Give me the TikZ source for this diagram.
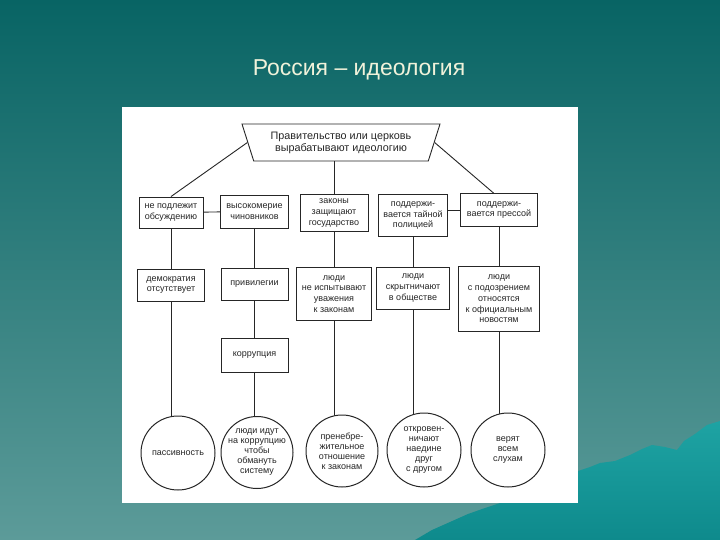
\documentclass[tikz,border=0pt]{standalone}
\usepackage{fontspec}
\setmainfont{Liberation Sans}
\usetikzlibrary{shapes.geometric,calc}
\pgfdeclarelayer{bg}
\pgfdeclarelayer{conn}
\pgfsetlayers{bg,conn,main}
\definecolor{ink}{HTML}{262626}
\definecolor{bgtop}{RGB}{8,100,100}
\definecolor{bgmid}{RGB}{44,124,122}
\definecolor{bgbot}{RGB}{92,155,153}
\definecolor{mtop}{RGB}{30,163,163}
\definecolor{mbot}{RGB}{14,138,140}
\definecolor{titlecol}{RGB}{240,242,218}
\begin{document}
\begin{tikzpicture}[x=1pt,y=-1pt,
  box/.style={draw=ink, line width=0.9pt, fill=white, align=center,
    font=\fontsize{9}{10.8}\selectfont, text=ink, inner sep=1pt},
  circ/.style={circle, draw=ink, line width=1pt, fill=white, align=center,
    font=\fontsize{9}{10}\selectfont, text=ink, inner sep=-10pt},
  link/.style={draw=ink, line width=0.9pt}]
\useasboundingbox (0,0) rectangle (720,540);
\begin{pgfonlayer}{bg}
  \shade[top color=bgtop, middle color=bgmid, bottom color=bgbot] (0,0) rectangle (720,540);
  \shade[top color=mtop, bottom color=mbot]
    (415,540) -- (432,530) -- (450,522) -- (468,514) -- (485,508) -- (500,503)
    -- (578,503) -- (578,471) -- (590,467) -- (600,463) -- (615,461) -- (630,455)
    -- (642,449) -- (652,445) -- (665,447) -- (677,450) -- (684,441) -- (695,434)
    -- (707,425) -- (720,421) -- (720,540) -- cycle;
  \fill[white] (122,107) rectangle (578,503);
\end{pgfonlayer}

\node[text=titlecol, font=\fontsize{23}{27}\selectfont] (title) at (359,70) {Россия – идеология};

\node[trapezium, trapezium angle=61.6, shape border rotate=180,
  trapezium stretches body, minimum width=198pt, minimum height=37pt,
  draw=ink, line width=0.9pt, fill=white, align=center,
  font=\fontsize{10.8}{12}\selectfont, text=ink, inner sep=0pt]
  (top) at (341,142.5) {Правительство или церковь\\вырабатывают идеологию};

\node[box, minimum width=64pt, minimum height=31pt] (b1) at (171,212.5) {не подлежит\\обсуждению};
\node[box, minimum width=68pt, minimum height=33pt] (b2) at (254.5,211.5) {высокомерие\\чиновников};
\node[box, minimum width=68pt, minimum height=37pt] (b3) at (334,213) {законы\\защищают\\государство};
\node[box, minimum width=69pt, minimum height=42pt] (b4) at (413,215.5) {поддержи-\\вается тайной\\полицией};
\node[box, minimum width=77pt, minimum height=33pt] (b5) at (499,210) {поддержи-\\вается прессой};

\node[box, minimum width=67pt, minimum height=32pt] (c1) at (171,285) {демократия\\отсутствует};
\node[box, minimum width=67pt, minimum height=32pt] (c2) at (254.5,284) {привилегии};
\node[box, minimum width=75pt, minimum height=53pt] (c3) at (334,294) {люди\\не испытывают\\уважения\\к законам};
\node[box, minimum width=73pt, minimum height=42pt] (c4) at (413,288) {люди\\скрытничают\\в обществе};
\node[box, minimum width=81pt, minimum height=65pt] (c5) at (499,299) {люди\\с подозрением\\относятся\\к официальным\\новостям};
\node[box, minimum width=67pt, minimum height=34pt] (d2) at (254.5,355) {коррупция};

\node[circ, minimum size=74pt] (e1) at (178,453) {пассивность};
\node[circ, minimum size=72pt] (e2) at (257,452.5) {люди идут\\на коррупцию\\чтобы\\обмануть\\систему};
\node[circ, minimum size=72pt] (e3) at (342,451) {пренебре-\\жительное\\отношение\\к законам};
\node[circ, minimum size=74pt] (e4) at (424,450) {откровен-\\ничают\\наедине\\друг\\с другом};
\node[circ, minimum size=74pt] (e5) at (508,450) {верят\\всем\\слухам};

\begin{pgfonlayer}{conn}
  \draw[link] (top.180) -- (b1.north);
  \draw[link] (top.0) -- ($(b5.north west)!0.43!(b5.north east)$);
  \draw[link] (b3.north) -- (b3.north |- top.center);
  \draw[link] (b1.center) -- (b2.center);
  \draw[link] (b4.center |- b5.center) -- (b5.center);
  \draw[link] (b1.center) -- (b1.center |- e1.center);
  \draw[link] (b2.center) -- (b2.center |- e2.center);
  \draw[link] (b3.center) -- (b3.center |- e3.center);
  \draw[link] (b4.center) -- (b4.center |- e4.center);
  \draw[link] (b5.center) -- (b5.center |- e5.center);
\end{pgfonlayer}
\end{tikzpicture}
\end{document}
